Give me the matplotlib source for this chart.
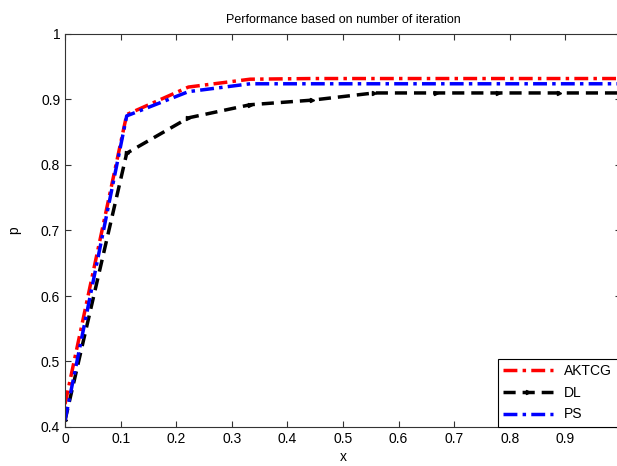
import matplotlib.pyplot as plt
from matplotlib.ticker import FormatStrFormatter

plt.rcParams['font.family'] = ['Liberation Sans', 'DejaVu Sans']

x = [0, 0.111, 0.222, 0.333, 0.444, 0.556, 0.667, 0.778, 0.889, 1.0]
aktcg = [0.435, 0.877, 0.919, 0.931, 0.932, 0.932, 0.932, 0.932, 0.932, 0.932]
dl = [0.410, 0.818, 0.872, 0.892, 0.899, 0.910, 0.910, 0.910, 0.910, 0.910]
ps = [0.410, 0.875, 0.912, 0.924, 0.924, 0.924, 0.924, 0.924, 0.924, 0.924]

xticks = [0, 0.1, 0.2, 0.3, 0.4, 0.5, 0.6, 0.7, 0.8, 0.9, 1.0]
xlabels = ['0', '0.1', '0.2', '0.3', '0.4', '0.5', '0.6', '0.7', '0.8', '0.9', '']

fig = plt.figure(figsize=(6.17, 4.66), dpi=100)
ax = fig.add_axes([65 / 617, 39 / 466, 556 / 617, 393 / 466])

ax.plot(x, aktcg, color='red', lw=2.5, dashes=(4, 1.5, 1, 1.5), label='AKTCG')
ax.plot(x, dl, color='black', lw=2.5, dashes=(3.5, 2), marker='>', ms=3,
        label='DL')
ax.plot(x, ps, color='blue', lw=2.5, dashes=(4, 1.5, 1, 1.5), label='PS')

ax.set_xlim(0, 1)
ax.set_ylim(0.4, 1)
ax.set_xticks(xticks)
ax.set_xticklabels(xlabels)
ax.set_yticks([0.4, 0.5, 0.6, 0.7, 0.8, 0.9, 1.0])
ax.yaxis.set_major_formatter(FormatStrFormatter('%g'))
ax.tick_params(direction='in', top=True, right=True, labelsize=10, length=4,
               color='#333333')
for s in ax.spines.values():
    s.set_color('#333333')

ax.set_title('Performance based on number of iteration', fontsize=9, pad=8)
ax.set_xlabel('x', fontsize=10, labelpad=3)
ax.set_ylabel('p', fontsize=10, labelpad=14)

leg = ax.legend(loc='lower right', bbox_to_anchor=(0.994, 0.0), fontsize=10,
                fancybox=False, edgecolor='black', framealpha=1,
                handlelength=3.6, borderaxespad=0, labelspacing=0.55)
leg.get_frame().set_linewidth(0.8)

fig.savefig('out.png', dpi=100)
